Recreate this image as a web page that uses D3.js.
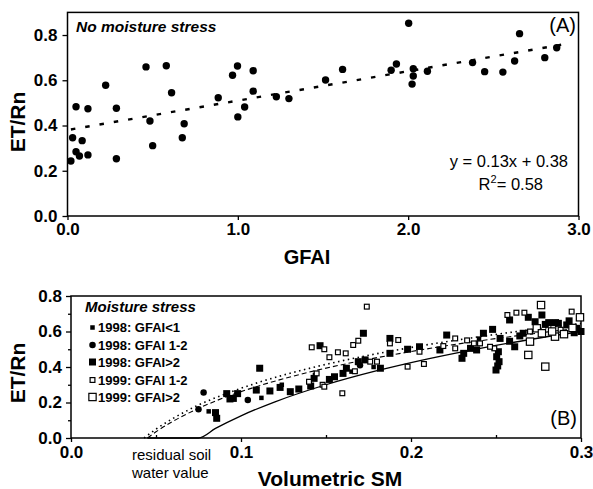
<!DOCTYPE html>
<html>
<head>
<meta charset="utf-8">
<script src="https://cdn.jsdelivr.net/npm/d3@7"></script>
<style>
  body { margin: 0; background: #fff; }
  svg { display: block; }
  text { fill: #000; }
</style>
</head>
<body>
<svg id="chart" width="593" height="489"></svg>
<script>
// ---------- Panel A: ET/Rn against GFAI, no moisture stress ----------
const gfaiA = [0.02, 0.03, 0.05, 0.05, 0.07, 0.086, 0.12, 0.12, 0.224, 0.287, 0.287,
  0.461, 0.484, 0.50, 0.58, 0.611, 0.674, 0.685, 0.885, 0.969, 0.998, 1.0, 1.04,
  1.09, 1.09, 1.226, 1.30, 1.515, 1.615, 1.90, 1.931, 2.003, 2.03, 2.03, 2.023,
  2.113, 2.378, 2.449, 2.556, 2.625, 2.654, 2.802, 2.872];
const etrnA = [0.243, 0.346, 0.483, 0.284, 0.265, 0.333, 0.27, 0.474, 0.578, 0.476, 0.253,
  0.659, 0.42, 0.311, 0.664, 0.545, 0.346, 0.408, 0.523, 0.622, 0.663, 0.438, 0.482,
  0.642, 0.552, 0.527, 0.519, 0.601, 0.648, 0.644, 0.672, 0.852, 0.651, 0.619, 0.583,
  0.64, 0.678, 0.638, 0.636, 0.685, 0.806, 0.70, 0.744];
// regression: y = 0.13x + 0.38
const fitSlope = 0.13;
const fitIntercept = 0.38;
const fitSpan = [0.02, 2.9];

const ticksAX = [0, 1, 2, 3];
const ticksAY = [0, 0.2, 0.4, 0.6, 0.8];

// ---------- Panel B: ET/Rn against volumetric soil moisture ----------
// 1998: GFAI<1 (small filled squares)
const smLt1_98 = [0.081, 0.112, 0.124, 0.1435, 0.165, 0.178, 0.24];
const etLt1_98 = [0.150, 0.226, 0.300, 0.355, 0.374, 0.400, 0.56];
// 1998: GFAI 1-2 (filled dots)
const sm12_98 = [0.075, 0.078, 0.104, 0.17];
const et12_98 = [0.162, 0.257, 0.214, 0.41];
// 1998: GFAI>2 (large filled squares)
const smGt2_98 = [0.085, 0.0857, 0.0916, 0.0935, 0.098, 0.0955, 0.109, 0.111, 0.117, 0.123,
  0.129, 0.134, 0.141, 0.143, 0.1465, 0.172, 0.155, 0.152, 0.16, 0.162, 0.169, 0.173,
  0.182, 0.1876, 0.1876, 0.198, 0.205, 0.217, 0.221, 0.23, 0.231, 0.235, 0.2386, 0.2426,
  0.248, 0.2524, 0.2514, 0.2504, 0.2518, 0.251, 0.25, 0.261, 0.266, 0.296, 0.2975, 0.258,
  0.269, 0.273, 0.277, 0.281, 0.285, 0.2867, 0.2916, 0.293, 0.279, 0.264, 0.258, 0.3];
const etGt2_98 = [0.143, 0.111, 0.25, 0.22, 0.25, 0.223, 0.27, 0.393, 0.265, 0.285,
  0.261, 0.276, 0.293, 0.336, 0.52, 0.59, 0.345, 0.33, 0.364, 0.393, 0.43, 0.44,
  0.393, 0.561, 0.477, 0.50, 0.514, 0.496, 0.58, 0.449, 0.477, 0.505, 0.496, 0.59,
  0.612, 0.561, 0.486, 0.458, 0.43, 0.406, 0.383, 0.514, 0.59, 0.593, 0.618, 0.665,
  0.68, 0.655, 0.693, 0.65, 0.65, 0.646, 0.637, 0.66, 0.64, 0.575, 0.545, 0.60];
// 1999: GFAI 1-2 (small open squares)
const sm12_99 = [0.14, 0.148, 0.1445, 0.1416, 0.149, 0.152, 0.157, 0.1616, 0.166, 0.169,
  0.174, 0.149, 0.1596, 0.167, 0.176, 0.18, 0.1876, 0.1925, 0.205, 0.198, 0.2076,
  0.226, 0.226, 0.237, 0.219, 0.2406, 0.249, 0.2465, 0.2567, 0.262, 0.2667, 0.2945,
  0.288, 0.233, 0.27];
const et12_99 = [0.317, 0.30, 0.364, 0.511, 0.50, 0.455, 0.483, 0.477, 0.524, 0.548,
  0.74, 0.289, 0.252, 0.376, 0.43, 0.43, 0.533, 0.552, 0.486, 0.402, 0.417,
  0.561, 0.505, 0.533, 0.518, 0.533, 0.505, 0.514, 0.693, 0.706, 0.706, 0.712,
  0.61, 0.55, 0.60];
// 1999: GFAI>2 (large open squares)
const smGt2_99 = [0.27, 0.269, 0.279, 0.274, 0.277, 0.2847, 0.2765, 0.2994, 0.283, 0.29, 0.295];
const etGt2_99 = [0.543, 0.468, 0.402, 0.618, 0.59, 0.571, 0.749, 0.68, 0.60, 0.585, 0.62];

// fitted response curves (ET/Rn)
const curveSolidSM = [0.045, 0.075, 0.085, 0.10, 0.12, 0.15, 0.18, 0.21, 0.24, 0.27, 0.30];
const curveSolidET = [0.0, 0.0, 0.054, 0.125, 0.204, 0.30, 0.379, 0.446, 0.504, 0.555, 0.60];
const curveDashSM = [0.045, 0.05, 0.06, 0.075, 0.09, 0.11, 0.14, 0.17, 0.20, 0.23, 0.26, 0.30];
const curveDashET = [0.0, 0.035, 0.094, 0.167, 0.227, 0.292, 0.371, 0.434, 0.487, 0.533, 0.573, 0.62];
const curveDotSM = [0.043, 0.05, 0.06, 0.075, 0.09, 0.11, 0.14, 0.17, 0.20, 0.23, 0.26, 0.30];
const curveDotET = [0.0, 0.05, 0.11, 0.186, 0.245, 0.312, 0.392, 0.456, 0.51, 0.556, 0.597, 0.645];

const ticksBX = [0, 0.1, 0.2, 0.3];
const ticksBY = [0, 0.2, 0.4, 0.6, 0.8];

const legendLabels = ["1998: GFAI<1", "1998: GFAI 1-2", "1998: GFAI>2", "1999: GFAI 1-2", "1999: GFAI>2"];

// ---------------------------------------------------------------------
const svg = d3.select("#chart");
const SANS = "'Liberation Sans', Arial, Helvetica, sans-serif";
const NARROW = "'Liberation Sans Narrow', 'Arial Narrow', 'Liberation Sans', sans-serif";
const zip = (a, b) => a.map((v, i) => [v, b[i]]);

function styleAxis(g) {
  g.select(".domain").remove();
  g.selectAll(".tick line").attr("stroke", "#000").attr("stroke-width", 1.3);
  g.selectAll(".tick text")
    .attr("font-family", SANS).attr("font-weight", "bold").attr("font-size", 17).attr("fill", "#000");
}

// ----- Panel A -----
const xA = d3.scaleLinear().domain([0, 3]).range([67.5, 578.5]);
const yA = d3.scaleLinear().domain([0, 0.9]).range([216, 12.4]);

svg.append("g").attr("transform", `translate(0,${yA(0)})`)
  .call(d3.axisBottom(xA).tickValues(ticksAX).tickFormat(d3.format(".1f")).tickSize(4).tickPadding(3))
  .call(styleAxis);
svg.append("g").attr("transform", `translate(${xA(0)},0)`)
  .call(d3.axisLeft(yA).tickValues(ticksAY).tickFormat(d3.format(".1f")).tickSize(5).tickPadding(5))
  .call(styleAxis);

svg.append("rect")
  .attr("x", xA(0)).attr("y", yA(0.9))
  .attr("width", xA(3) - xA(0)).attr("height", yA(0) - yA(0.9))
  .attr("fill", "none").attr("stroke", "#000").attr("stroke-width", 1.5);

// regression line
svg.append("path")
  .datum(fitSpan.map(x => [x, fitSlope * x + fitIntercept]))
  .attr("d", d3.line().x(d => xA(d[0])).y(d => yA(d[1])))
  .attr("fill", "none").attr("stroke", "#000").attr("stroke-width", 2.4)
  .attr("stroke-dasharray", "4.5,10");

svg.append("g").selectAll("circle")
  .data(zip(gfaiA, etrnA)).join("circle")
  .attr("cx", d => xA(d[0])).attr("cy", d => yA(d[1])).attr("r", 3.7)
  .attr("fill", "#000");

svg.append("text").attr("x", 76).attr("y", 32)
  .attr("font-family", SANS).attr("font-weight", "bold").attr("font-style", "italic")
  .attr("font-size", 15.5).text("No moisture stress");
svg.append("text").attr("x", 576).attr("y", 32).attr("text-anchor", "end")
  .attr("font-family", SANS).attr("font-size", 20).text("(A)");

svg.append("text").attr("x", 568).attr("y", 167).attr("text-anchor", "end")
  .attr("font-family", NARROW).attr("font-size", 16.5).text("y = 0.13x + 0.38");
const r2 = svg.append("text").attr("x", 543).attr("y", 190).attr("text-anchor", "end")
  .attr("font-family", NARROW).attr("font-size", 16.5);
r2.append("tspan").text("R");
r2.append("tspan").attr("dy", -7).attr("font-size", 11).text("2");
r2.append("tspan").attr("dy", 7).text("= 0.58");

svg.append("text").attr("transform", "translate(25,122) rotate(-90)")
  .attr("text-anchor", "middle").attr("font-family", SANS).attr("font-weight", "bold")
  .attr("font-size", 21).text("ET/Rn");
svg.append("text").attr("x", 307).attr("y", 264).attr("text-anchor", "middle")
  .attr("font-family", SANS).attr("font-weight", "bold").attr("font-size", 20).text("GFAI");

// ----- Panel B -----
const xB = d3.scaleLinear().domain([0, 0.3]).range([71, 581]);
const yB = d3.scaleLinear().domain([0, 0.8]).range([438, 296]);

svg.append("g").attr("transform", `translate(0,${yB(0)})`)
  .call(d3.axisBottom(xB).tickValues(ticksBX).tickFormat(d3.format(".1f")).tickSize(4).tickPadding(4))
  .call(styleAxis);
svg.append("g").attr("transform", `translate(0,${yB(0)})`)
  .call(d3.axisTop(xB).tickValues([0.05, 0.15, 0.25]).tickFormat("").tickSize(3))
  .call(styleAxis);
svg.append("g").attr("transform", `translate(${xB(0)},0)`)
  .call(d3.axisLeft(yB).tickValues(ticksBY).tickFormat(d3.format(".1f")).tickSize(5).tickPadding(4))
  .call(styleAxis);
svg.append("g").attr("transform", `translate(${xB(0)},0)`)
  .call(d3.axisLeft(yB).tickValues([0.1, 0.3, 0.5, 0.7]).tickFormat("").tickSize(3))
  .call(styleAxis);

svg.append("rect")
  .attr("x", xB(0)).attr("y", yB(0.8))
  .attr("width", xB(0.3) - xB(0)).attr("height", yB(0) - yB(0.8))
  .attr("fill", "none").attr("stroke", "#000").attr("stroke-width", 1.5);

const lineB = d3.line().x(d => xB(d[0])).y(d => yB(d[1])).curve(d3.curveMonotoneX);
svg.append("path").datum(zip(curveDotSM, curveDotET)).attr("d", lineB)
  .attr("fill", "none").attr("stroke", "#000").attr("stroke-width", 1.6)
  .attr("stroke-dasharray", "1.5,3.5");
svg.append("path").datum(zip(curveDashSM, curveDashET)).attr("d", lineB)
  .attr("fill", "none").attr("stroke", "#000").attr("stroke-width", 1.1)
  .attr("stroke-dasharray", "5,3");
svg.append("path").datum(zip(curveSolidSM, curveSolidET)).attr("d", lineB)
  .attr("fill", "none").attr("stroke", "#000").attr("stroke-width", 1.3);

// marker drawing per series
const seriesB = [
  { sm: smLt1_98, et: etLt1_98, kind: "square", size: 4.5, filled: true },
  { sm: sm12_98, et: et12_98, kind: "dot", size: 6.5, filled: true },
  { sm: smGt2_98, et: etGt2_98, kind: "square", size: 7, filled: true },
  { sm: sm12_99, et: et12_99, kind: "square", size: 6, filled: false },
  { sm: smGt2_99, et: etGt2_99, kind: "square", size: 8.5, filled: false }
];

function drawMarker(g, s, cx, cy) {
  if (s.kind === "dot") {
    g.append("circle").attr("cx", cx).attr("cy", cy).attr("r", s.size / 2).attr("fill", "#000");
  } else if (s.filled) {
    g.append("rect").attr("x", cx - s.size / 2).attr("y", cy - s.size / 2)
      .attr("width", s.size).attr("height", s.size).attr("fill", "#000");
  } else {
    g.append("rect").attr("x", cx - s.size / 2 + 0.6).attr("y", cy - s.size / 2 + 0.6)
      .attr("width", s.size - 1.2).attr("height", s.size - 1.2)
      .attr("fill", "#fff").attr("stroke", "#000").attr("stroke-width", 1.2);
  }
}

const pts = svg.append("g");
seriesB.forEach(s => {
  zip(s.sm, s.et).forEach(d => drawMarker(pts, s, xB(d[0]), yB(d[1])));
});

// legend
const leg = svg.append("g");
leg.append("text").attr("x", 85).attr("y", 312)
  .attr("font-family", SANS).attr("font-weight", "bold").attr("font-style", "italic")
  .attr("font-size", 15).text("Moisture stress");
const legY = [332, 349.5, 366.5, 384.5, 401.5];
seriesB.forEach((s, i) => {
  drawMarker(leg, s, 92.5, legY[i] - 4.5);
  leg.append("text").attr("x", 98).attr("y", legY[i])
    .attr("font-family", NARROW).attr("font-weight", "bold").attr("font-size", 13)
    .text(legendLabels[i]);
});

svg.append("text").attr("x", 577).attr("y", 425).attr("text-anchor", "end")
  .attr("font-family", SANS).attr("font-size", 20).text("(B)");

// two-line note under the axis
svg.append("text").attr("x", 132).attr("y", 460)
  .attr("font-family", SANS).attr("font-size", 15).text("residual soil");
svg.append("text").attr("x", 132).attr("y", 477.5)
  .attr("font-family", SANS).attr("font-size", 15).text("water value");

svg.append("text").attr("transform", "translate(25,373) rotate(-90)")
  .attr("text-anchor", "middle").attr("font-family", SANS).attr("font-weight", "bold")
  .attr("font-size", 21).text("ET/Rn");
svg.append("text").attr("x", 330).attr("y", 486).attr("text-anchor", "middle")
  .attr("font-family", SANS).attr("font-weight", "bold").attr("font-size", 21).text("Volumetric SM");
</script>
</body>
</html>
